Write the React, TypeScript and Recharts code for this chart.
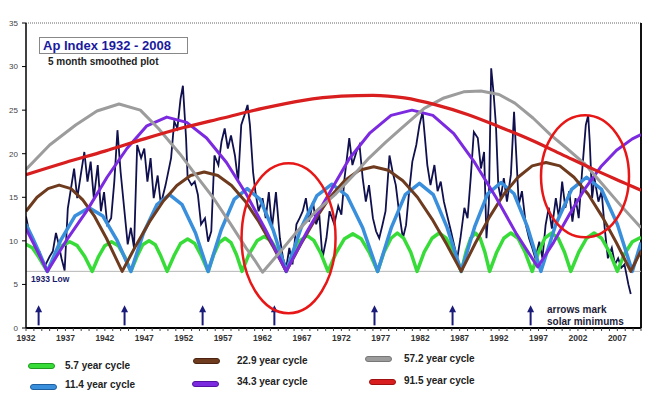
import React from 'react';
import { ComposedChart, Line, Scatter, XAxis, YAxis, ReferenceLine } from 'recharts';

type Pt = [number, number];

// 5 month smoothed Ap index
const apIndex: Pt[] = [
  [1932.0, 12.8], [1932.4, 11.0], [1932.8, 10.3], [1933.2, 9.0], [1933.7, 8.8], [1934.1, 7.6], [1934.5, 7.3],
  [1935.0, 8.2], [1935.4, 8.8], [1935.8, 10.9], [1936.1, 9.8], [1936.5, 8.0], [1936.9, 6.6], [1937.3, 13.7],
  [1937.7, 16.0], [1938.1, 18.3], [1938.5, 14.9], [1939.0, 17.9], [1939.4, 20.2], [1939.8, 16.8], [1940.2, 19.1],
  [1940.6, 14.9], [1941.1, 18.7], [1941.5, 13.4], [1941.9, 15.6], [1942.3, 11.9], [1942.8, 12.6], [1943.2, 16.8],
  [1943.6, 22.7], [1944.0, 17.9], [1944.4, 14.2], [1944.9, 9.6], [1945.3, 11.5], [1945.7, 9.2], [1946.1, 21.0],
  [1946.6, 19.5], [1947.0, 20.6], [1947.4, 16.8], [1947.8, 19.5], [1948.2, 14.9], [1948.7, 17.5], [1949.1, 14.2],
  [1949.7, 16.4], [1950.4, 19.5], [1950.8, 23.7], [1951.2, 22.9], [1951.6, 26.3], [1951.9, 27.8], [1952.3, 21.8],
  [1952.5, 17.2], [1953.0, 16.4], [1953.4, 16.8], [1953.8, 15.3], [1954.2, 11.9], [1954.7, 12.6], [1955.1, 9.9],
  [1955.5, 11.1], [1955.9, 19.8], [1956.4, 18.7], [1956.8, 21.4], [1957.2, 22.9], [1957.6, 20.6], [1958.0, 22.1],
  [1958.5, 19.8], [1958.9, 16.8], [1959.3, 23.3], [1959.7, 24.4], [1960.1, 25.6], [1960.4, 23.3], [1960.8, 17.9],
  [1961.1, 15.6], [1961.5, 13.4], [1962.0, 14.9], [1962.4, 12.6], [1962.8, 15.6], [1963.2, 11.5], [1963.7, 15.6],
  [1964.2, 10.3], [1964.6, 8.0], [1965.0, 6.9], [1965.4, 9.2], [1965.8, 7.3], [1966.3, 11.9], [1966.7, 12.6],
  [1967.1, 13.4], [1967.5, 14.9], [1967.9, 12.2], [1968.4, 14.5], [1968.8, 11.9], [1969.2, 13.0], [1969.6, 8.0],
  [1970.1, 10.3], [1970.5, 13.4], [1971.1, 11.9], [1971.6, 14.0], [1972.0, 13.0], [1972.4, 17.2], [1973.0, 21.8],
  [1973.4, 18.7], [1973.9, 20.2], [1974.3, 21.0], [1974.7, 17.2], [1975.1, 14.5], [1975.5, 16.4], [1976.0, 12.6],
  [1976.4, 11.1], [1976.8, 10.3], [1977.2, 11.8], [1977.6, 13.4], [1978.1, 19.8], [1978.5, 17.9], [1978.9, 16.4],
  [1979.3, 13.4], [1979.8, 10.3], [1980.2, 11.8], [1980.6, 15.7], [1981.0, 19.1], [1981.5, 21.0], [1981.9, 23.3],
  [1982.3, 24.8], [1982.6, 21.8], [1982.9, 18.7], [1983.3, 16.4], [1983.8, 18.7], [1984.2, 15.7], [1984.6, 16.8],
  [1985.0, 14.5], [1985.5, 12.6], [1985.9, 11.1], [1986.3, 9.5], [1986.7, 8.0], [1987.1, 10.3], [1987.6, 13.8],
  [1988.0, 12.6], [1988.4, 17.2], [1988.8, 22.5], [1989.3, 21.8], [1989.7, 18.3], [1990.1, 20.2], [1990.4, 10.3],
  [1990.7, 14.2], [1991.0, 29.8], [1991.3, 27.0], [1991.6, 23.3], [1991.9, 16.4], [1992.2, 14.9], [1992.6, 17.2],
  [1993.0, 14.5], [1993.5, 17.6], [1993.9, 24.8], [1994.2, 19.5], [1994.5, 14.2], [1994.9, 15.7], [1995.4, 11.8],
  [1995.8, 10.3], [1996.2, 9.2], [1996.6, 8.0], [1997.1, 9.9], [1997.5, 8.0], [1997.9, 11.8], [1998.3, 13.8],
  [1998.7, 11.4], [1999.2, 14.9], [1999.6, 12.6], [2000.0, 16.8], [2000.4, 13.8], [2000.9, 15.7], [2001.3, 12.2],
  [2001.7, 14.9], [2002.1, 12.6], [2002.5, 17.6], [2003.0, 23.3], [2003.3, 24.4], [2003.5, 21.4], [2003.8, 14.9],
  [2004.1, 17.2], [2004.6, 14.5], [2005.0, 15.7], [2005.4, 11.4], [2005.8, 8.0], [2006.3, 9.2], [2006.7, 7.3],
  [2007.1, 8.0], [2007.5, 6.9], [2007.9, 7.3], [2008.4, 5.0], [2008.7, 3.9],
];

const cycle5_7: Pt[] = [
  [1932.0, 9.6], [1932.8, 9.2], [1933.5, 8.3], [1934.1, 7.4], [1934.7, 6.5],
  [1935.65, 8.2], [1936.6, 9.45], [1937.55, 9.9], [1938.5, 9.45], [1939.45, 8.2], [1940.4, 6.5],
  [1941.2, 8.2], [1942.0, 9.45], [1942.85, 9.9], [1943.7, 9.45], [1944.5, 8.2], [1945.3, 6.5],
  [1946.1, 8.25], [1946.8, 9.55], [1947.6, 10.0], [1948.4, 9.55], [1949.1, 8.25], [1949.9, 6.5],
  [1950.8, 8.35], [1951.6, 9.7], [1952.5, 10.2], [1953.4, 9.7], [1954.2, 8.35], [1955.1, 6.5],
  [1955.8, 8.4], [1956.5, 9.8], [1957.25, 10.3], [1958.0, 9.8], [1958.7, 8.4], [1959.4, 6.5],
  [1960.3, 8.5], [1961.3, 10.0], [1962.2, 10.5], [1963.1, 10.0], [1964.1, 8.5], [1965.0, 6.5],
  [1965.9, 8.55], [1966.8, 10.05], [1967.65, 10.6], [1968.5, 10.05], [1969.4, 8.55], [1970.3, 6.5],
  [1971.35, 8.65], [1972.4, 10.25], [1973.45, 10.8], [1974.5, 10.25], [1975.55, 8.65], [1976.6, 6.5],
  [1977.4, 8.7], [1978.3, 10.3], [1979.1, 10.9], [1979.9, 10.3], [1980.8, 8.7], [1981.6, 6.5],
  [1982.5, 8.7], [1983.5, 10.3], [1984.4, 10.9], [1985.3, 10.3], [1986.3, 8.7], [1987.2, 6.5],
  [1987.8, 8.7], [1988.4, 10.3], [1989.0, 10.9], [1989.6, 10.3], [1990.2, 8.7], [1990.8, 6.5],
  [1991.7, 8.7], [1992.6, 10.3], [1993.5, 10.9], [1994.4, 10.3], [1995.3, 8.7], [1996.2, 6.5],
  [1997.0, 8.7], [1997.8, 10.3], [1998.65, 10.9], [1999.5, 10.3], [2000.3, 8.7], [2001.1, 6.5],
  [2002.1, 8.7], [2003.1, 10.3], [2004.05, 10.9], [2005.0, 10.3], [2006.0, 8.7], [2007.0, 6.5],
  [2007.9, 8.5], [2008.9, 9.9], [2010.0, 10.4],
];

const cycle11_4: Pt[] = [
  [1932.0, 11.9], [1932.9, 10.2], [1933.8, 8.4], [1934.7, 6.5],
  [1936.45, 10.15], [1938.2, 12.85], [1940.0, 13.8], [1941.75, 12.85], [1943.5, 10.15], [1945.3, 6.5],
  [1946.9, 10.9], [1948.6, 14.15], [1950.2, 15.3], [1951.8, 14.15], [1953.5, 10.9], [1955.1, 6.5],
  [1956.75, 11.25], [1958.4, 14.75], [1960.05, 16.0], [1961.7, 14.75], [1963.35, 11.25], [1965.0, 6.5],
  [1966.9, 11.5], [1968.9, 15.2], [1970.8, 16.5], [1972.7, 15.2], [1974.7, 11.5], [1976.6, 6.5],
  [1978.35, 11.55], [1980.1, 15.3], [1981.9, 16.6], [1983.65, 15.3], [1985.4, 11.55], [1987.2, 6.5],
  [1988.9, 11.6], [1990.55, 15.4], [1992.25, 16.7], [1993.9, 15.4], [1995.6, 11.6], [1997.3, 6.5],
  [1999.2, 11.9], [2001.2, 15.9], [2003.1, 17.3], [2005.0, 15.9], [2007.0, 11.9], [2008.9, 6.5],
  [2010.0, 9.8],
];

const cycle22_9: Pt[] = [
  [1932.0, 13.4], [1933.4, 15.0], [1934.8, 16.0], [1936.2, 16.4], [1937.7, 16.0], [1939.2, 14.7],
  [1940.7, 12.8], [1942.2, 10.3], [1943.2, 8.4], [1944.2, 6.5],
  [1945.93, 9.45], [1947.67, 12.2], [1949.4, 14.55], [1951.13, 16.35], [1952.87, 17.5], [1954.6, 17.9],
  [1956.33, 17.5], [1958.07, 16.35], [1959.8, 14.55], [1961.53, 12.2], [1963.27, 9.45], [1965.0, 6.5],
  [1966.85, 9.6], [1968.7, 12.5], [1970.55, 15.0], [1972.4, 16.9], [1974.25, 18.1], [1976.1, 18.5],
  [1977.95, 18.1], [1979.8, 16.9], [1981.65, 15.0], [1983.5, 12.5], [1985.35, 9.6], [1987.2, 6.5],
  [1989.0, 9.75], [1990.8, 12.75], [1992.6, 15.35], [1994.4, 17.3], [1996.2, 18.6], [1997.95, 19.0],
  [1999.7, 18.6], [2001.5, 17.3], [2003.3, 15.35], [2005.1, 12.75], [2006.9, 9.75], [2008.7, 6.5],
  [2010.0, 8.85],
];

const cycle34_3: Pt[] = [
  [1932.0, 11.4], [1933.35, 9.0], [1934.7, 6.5],
  [1937.23, 10.2], [1939.75, 13.5], [1942.28, 17.3], [1944.8, 20.6], [1947.33, 23.2], [1949.85, 24.2],
  [1952.38, 23.6], [1954.9, 21.8], [1957.43, 19.0], [1959.95, 15.35], [1962.48, 11.1], [1965.0, 6.5],
  [1967.66, 11.1], [1970.3, 15.2], [1972.98, 19.4], [1975.63, 22.4], [1978.3, 24.4], [1980.95, 25.0],
  [1983.6, 24.4], [1986.26, 22.3], [1988.9, 19.0], [1991.6, 15.0], [1994.2, 10.8], [1996.9, 7.0],
  [1998.9, 9.8], [2000.9, 13.0], [2002.9, 16.0], [2004.9, 18.5], [2006.9, 20.4], [2008.9, 21.7], [2010.0, 22.2],
];

const cycle57_2: Pt[] = [
  [1932.0, 18.2], [1935.0, 21.0], [1938.3, 23.3], [1941.0, 24.9], [1943.8, 25.7], [1946.5, 25.0],
  [1948.8, 22.9], [1951.5, 20.0], [1954.0, 17.0], [1955.7, 15.0], [1957.9, 12.0], [1959.9, 9.2],
  [1961.0, 7.8], [1962.0, 6.4], [1964.2, 8.7], [1966.3, 11.0], [1968.8, 13.4], [1971.3, 15.4],
  [1973.5, 17.5], [1975.5, 19.5], [1977.6, 21.3], [1979.6, 22.9], [1982.5, 25.2], [1985.0, 26.4],
  [1987.5, 27.1], [1989.7, 27.2], [1992.0, 26.8], [1994.0, 25.8], [1996.3, 24.1], [1998.5, 22.2],
  [2000.6, 20.6], [2002.8, 18.9], [2005.0, 16.6], [2007.2, 14.3], [2010.0, 11.5],
];

const cycle91_5: Pt[] = [
  [1932, 17.6], [1937, 19.0], [1942, 20.3], [1947, 21.7], [1952, 23.0], [1957, 24.1], [1962, 25.2],
  [1967, 26.1], [1972, 26.6], [1976, 26.7], [1980, 26.4], [1984, 25.6], [1988, 24.5], [1992, 23.1],
  [1996, 21.6], [2000, 19.9], [2004, 18.2], [2008, 16.6], [2010, 15.8],
];

// solar minimum arrows and the two highlighted spots
const minimumYears = [1933.6, 1944.5, 1954.4, 1963.5, 1976.2, 1986.1, 1996.0];
const arrowLevel = 2.6;
const highlightSpots: Pt[] = [[1965.3, 10.3], [2002.9, 17.4]];
const lowLevel = 6.5;

const xLabels = [1932, 1937, 1942, 1947, 1952, 1957, 1962, 1967, 1972, 1977, 1982, 1987, 1992, 1997, 2002, 2007];
const yTicks = [0, 5, 10, 15, 20, 25, 30, 35];
const yearTicks = Array.from({ length: 79 }, (_, i) => 1932 + i);

const cycles = [
  { name: '5.7 year cycle', data: cycle5_7, color: '#38dc38', edge: '#1f9a1f', width: 3.5 },
  { name: '11.4 year cycle', data: cycle11_4, color: '#3a8fdc', edge: '#1f5f9f', width: 3.5 },
  { name: '22.9 year cycle', data: cycle22_9, color: '#6e3b1e', edge: '#4a2410', width: 3 },
  { name: '34.3 year cycle', data: cycle34_3, color: '#7c2ae0', edge: '#5213a0', width: 3 },
  { name: '57.2 year cycle', data: cycle57_2, color: '#9c9c9c', edge: '#777777', width: 3 },
  { name: '91.5 year cycle', data: cycle91_5, color: '#d81e1e', edge: '#a01010', width: 3.2 },
];

// legend layout (swatch x/y, text x/y) in page pixels
const legendSlots = [
  { sx: 28, sy: 366, tx: 65, ty: 366 },
  { sx: 30, sy: 387, tx: 65, ty: 385 },
  { sx: 193, sy: 361, tx: 237, ty: 361 },
  { sx: 192, sy: 384, tx: 237, ty: 382 },
  { sx: 365, sy: 359, tx: 404, ty: 359 },
  { sx: 369, sy: 382, tx: 404, ty: 381 },
];
const ringSizes = [{ rx: 47, ry: 75 }, { rx: 44, ry: 61 }];

const FONT = '"Liberation Sans", Arial, sans-serif';
const rows = (pts: Pt[]) => pts.map(([year, v]) => ({ year, v }));

const XTick = (p: any) => {
  const yr = p.payload.value;
  if (!xLabels.includes(yr)) return <g />;
  return (
    <text x={p.x} y={p.y + 8} textAnchor="middle" fontSize={8.5} fontWeight="bold" fill="#333" fontFamily={FONT}>
      {yr}
    </text>
  );
};

const Arrow = (p: any) => {
  const { cx, cy } = p;
  return (
    <g>
      <line x1={cx} y1={cy + 5} x2={cx} y2={cy + 20} stroke="#1b1b7a" strokeWidth={2} />
      <path d={`M${cx},${cy} L${cx - 3.5},${cy + 7} L${cx + 3.5},${cy + 7} Z`} fill="#1b1b7a" />
    </g>
  );
};

const ring = (rx: number, ry: number) => (p: any) => (
  <ellipse cx={p.cx} cy={p.cy} rx={rx} ry={ry} fill="none" stroke="#e81717" strokeWidth={2.5} />
);

const LowLabel = (p: any) => {
  const vb = p.viewBox || {};
  return (
    <text x={(vb.x || 0) + 5} y={(vb.y || 0) + 11} fontSize={8.5} fontWeight="bold" fill="#1b1b6b" fontFamily={FONT}>
      1933 Low
    </text>
  );
};

export default function App() {
  return (
    <div style={{ position: 'absolute', left: 0, top: 0, width: 646, height: 397, background: '#fff', fontFamily: FONT }}>
      <ComposedChart width={646} height={397} margin={{ top: 23, right: 5, bottom: 49, left: 0 }}>
        <XAxis
          type="number"
          dataKey="year"
          domain={[1932, 2010]}
          ticks={yearTicks}
          interval={0}
          height={20}
          tickSize={3}
          allowDataOverflow
          axisLine={{ stroke: '#000', strokeWidth: 2 }}
          tickLine={{ stroke: '#444' }}
          tick={<XTick />}
        />
        <YAxis
          type="number"
          dataKey="v"
          domain={[0, 35]}
          ticks={yTicks}
          interval={0}
          width={26}
          tickSize={4}
          tickMargin={4}
          allowDataOverflow
          axisLine={{ stroke: '#000', strokeWidth: 1.5 }}
          tickLine={{ stroke: '#000' }}
          tick={{ fontSize: 8, fill: '#444', fontFamily: FONT }}
        />
        <ReferenceLine y={35} stroke="#666" strokeDasharray="1 1" />
        <ReferenceLine x={2010} stroke="#111" strokeWidth={2} />
        <ReferenceLine y={lowLevel} stroke="#b5b5b5" strokeWidth={1} label={<LowLabel />} />
        <Line
          data={rows(apIndex)}
          dataKey="v"
          type="linear"
          stroke="#10104f"
          strokeWidth={1.8}
          dot={false}
          isAnimationActive={false}
        />
        {cycles.map((c) => (
          <Line
            key={c.name}
            data={rows(c.data)}
            dataKey="v"
            type={c.name.startsWith('91') ? 'monotone' : 'linear'}
            stroke={c.color}
            strokeWidth={c.width}
            strokeLinejoin="round"
            dot={false}
            isAnimationActive={false}
          />
        ))}
        <Scatter
          data={minimumYears.map((year) => ({ year, v: arrowLevel }))}
          dataKey="v"
          shape={Arrow}
          isAnimationActive={false}
        />
        {highlightSpots.map(([year, v], i) => (
          <Scatter
            key={year}
            data={[{ year, v }]}
            dataKey="v"
            shape={ring(ringSizes[i].rx, ringSizes[i].ry)}
            isAnimationActive={false}
          />
        ))}
      </ComposedChart>

      <div
        style={{
          position: 'absolute', left: 39, top: 37, width: 144, height: 15, border: '1px solid #888',
          background: '#fff', color: '#1a1a9e', fontWeight: 'bold', fontSize: 13, lineHeight: '15px', paddingLeft: 3,
          whiteSpace: 'nowrap',
        }}
      >
        Ap Index 1932 - 2008
      </div>
      <div style={{ position: 'absolute', left: 48, top: 56, fontSize: 10, fontWeight: 'bold', color: '#222', whiteSpace: 'nowrap' }}>
        5 month smoothed plot
      </div>
      <div style={{ position: 'absolute', left: 547, top: 304, fontSize: 10, fontWeight: 'bold', color: '#1d1d3a', lineHeight: '11.5px', whiteSpace: 'nowrap' }}>
        arrows mark<br />solar minimums
      </div>

      {cycles.map((c, i) => {
        const s = legendSlots[i];
        return (
          <React.Fragment key={c.name}>
            <div
              style={{
                position: 'absolute', left: s.sx, top: s.sy - 3, width: 27, height: 6, background: c.color,
                border: `1px solid ${c.edge}`, borderRadius: 3, boxSizing: 'border-box',
              }}
            />
            <div
              style={{
                position: 'absolute', left: s.tx, top: s.ty - 6, fontSize: 10, fontWeight: 'bold', color: '#222',
                lineHeight: '12px', whiteSpace: 'nowrap',
              }}
            >
              {c.name}
            </div>
          </React.Fragment>
        );
      })}
    </div>
  );
}
